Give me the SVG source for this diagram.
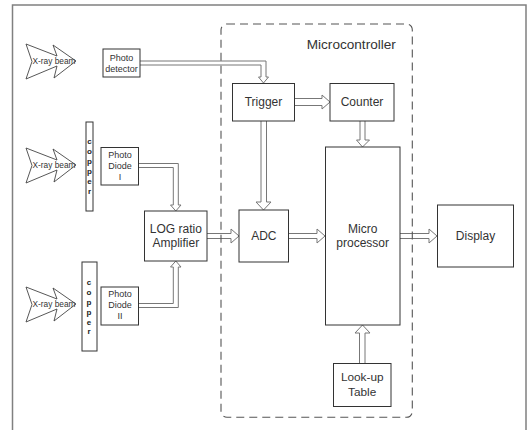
<svg xmlns="http://www.w3.org/2000/svg" width="527" height="430" viewBox="0 0 527 430">
<defs>
<style>
.box{fill:#fff;stroke:#333;stroke-width:1}
.t{font-family:"Liberation Sans",Arial,sans-serif;fill:#333;text-anchor:middle}
.t12{font-size:12px}
.t9{font-size:9px}
.cu{font-family:"Liberation Sans",Arial,sans-serif;font-size:8px;font-weight:bold;fill:#222;text-anchor:middle}
.ar{fill:#fff;stroke:#777;stroke-width:1;stroke-linejoin:miter}
.beam{fill:#fff;stroke:#444;stroke-width:0.9}
</style>
<polygon id="beamShape" points="26,44 57,56 53,45 76,61 54,78 57,66 26,79 32,61.5"/>
</defs>
<path d="M12.5,430 V5 H526 V430" fill="none" stroke="#808080" stroke-width="1.5"/>

<g id="connectors">
<path class="ar" d="M140,61 H266 V77 H268.5 L263.5,83 L258.5,77 H261 V65 H140"/>
<path class="ar" d="M138,163.5 H178.3 V205 H181 L175.8,211 L170.5,205 H173.3 V167.5 H138"/>
<path class="ar" d="M138,303.5 H173.3 V267 H170.5 L175.8,261 L181,267 H178.3 V307.5 H138"/>
<path class="ar" d="M295,98.5 H322 V95 L330,102 L322,109 V105.5 H295"/>
<path class="ar" d="M360,121 V140 H356.5 L362.5,147 L369.5,140 H365 V121"/>
<path class="ar" d="M261,121 V202 H256 L263.5,210 L271,202 H266.5 V121"/>
<path class="ar" d="M207,233.5 H231 V229 L239,236 L231,243 V238.5 H207"/>
<path class="ar" d="M288,233.5 H317 V229 L325,236 L317,243 V238.5 H288"/>
<path class="ar" d="M400,233.5 H429 V229 L437,236 L429,243 V238.5 H400"/>
<path class="ar" d="M359.5,363 V333 H355 L362.5,325 L370,333 H365 V363"/>
</g>

<g id="beam1">
<use href="#beamShape" class="beam"/>
<text class="t" x="54" y="63.8" style="font-size:8.3px">X-ray beam</text>
</g>
<g id="beam2" transform="translate(0,104)">
<use href="#beamShape" class="beam"/>
<text class="t" x="54" y="63.8" style="font-size:8.3px">X-ray beam</text>
</g>
<g id="beam3" transform="translate(0,243)">
<use href="#beamShape" class="beam"/>
<text class="t" x="54" y="63.8" style="font-size:8.3px">X-ray beam</text>
</g>

<g id="copper1">
<rect class="box" x="86" y="122" width="7" height="89"/>
<text class="cu" x="89.5" y="144">c</text>
<text class="cu" x="89.5" y="154">o</text>
<text class="cu" x="89.5" y="164">p</text>
<text class="cu" x="89.5" y="174">p</text>
<text class="cu" x="89.5" y="184">e</text>
<text class="cu" x="89.5" y="194">r</text>
</g>
<g id="copper2">
<rect class="box" x="82" y="262" width="15" height="89"/>
<text class="cu" x="89" y="284.5">c</text>
<text class="cu" x="89" y="294.5">o</text>
<text class="cu" x="89" y="304.5">p</text>
<text class="cu" x="89" y="314.5">p</text>
<text class="cu" x="89" y="324.5">e</text>
<text class="cu" x="89" y="334">r</text>
</g>

<g id="photodetector">
<rect class="box" x="103" y="49" width="37" height="28"/>
<text class="t t9" x="121.5" y="60.5">Photo</text>
<text class="t t9" x="121.5" y="71.5">detector</text>
</g>
<g id="photodiode1">
<rect class="box" x="101" y="147.5" width="37.5" height="37.5"/>
<text class="t t9" x="120" y="158.3">Photo</text>
<text class="t t9" x="120" y="169">Diode</text>
<text class="t t9" x="120" y="179.5">I</text>
</g>
<g id="photodiode2">
<rect class="box" x="101" y="287" width="37.5" height="38"/>
<text class="t t9" x="120" y="297.3">Photo</text>
<text class="t t9" x="120" y="308.3">Diode</text>
<text class="t t9" x="120" y="319.3">II</text>
</g>
<g id="amplifier">
<rect class="box" x="144.5" y="211" width="62.5" height="50"/>
<text class="t t12" x="175.8" y="233">LOG ratio</text>
<text class="t t12" x="175.8" y="247">Amplifier</text>
</g>
<g id="trigger">
<rect class="box" x="232.5" y="83.5" width="62" height="37.5"/>
<text class="t t12" x="263.5" y="106.3">Trigger</text>
</g>
<g id="counter">
<rect class="box" x="330" y="83.5" width="64" height="37.5"/>
<text class="t t12" x="362" y="106.3">Counter</text>
</g>
<g id="adc">
<rect class="box" x="239" y="210" width="49.5" height="52"/>
<text class="t t12" x="263.8" y="240.3">ADC</text>
</g>
<g id="microprocessor">
<rect class="box" x="325.5" y="147" width="74.5" height="178"/>
<text class="t t12" x="362.7" y="232.7">Micro</text>
<text class="t t12" x="362.7" y="246.5">processor</text>
</g>
<g id="display">
<rect class="box" x="437.5" y="205" width="76" height="62"/>
<text class="t t12" x="475.5" y="240.3">Display</text>
</g>
<g id="lookup">
<rect class="box" x="333.5" y="363.5" width="57.5" height="43"/>
<text class="t" x="362.2" y="381.3" style="font-size:11.8px">Look-up</text>
<text class="t" x="362.2" y="396" style="font-size:11.8px">Table</text>
</g>

<g id="microcontroller">
<rect x="221" y="24" width="191.3" height="393.3" rx="6" ry="6" fill="none" stroke="#555" stroke-width="1.1" stroke-dasharray="8 5"/>
<text class="t" x="351.3" y="48.5" style="font-size:13.6px">Microcontroller</text>
</g>
</svg>
